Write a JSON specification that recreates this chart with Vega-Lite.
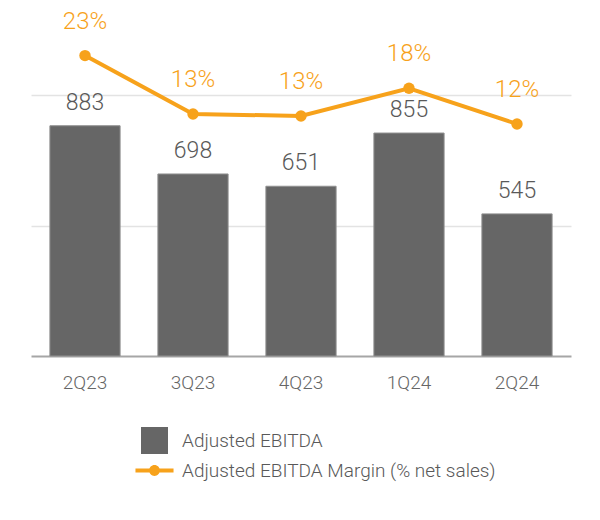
{
 "$schema": "https://vega.github.io/schema/vega-lite/v6.json",
 "width": 540, "height": 339,
 "autosize": {"type": "none"},
 "padding": {"left": 31, "top": 17, "right": 29, "bottom": 164},
 "background": "white",
 "config": {"view": {"stroke": null}, "font": "Roboto"},
 "data": {"values": [
   {"quarter": "2Q23", "ebitda": 883, "margin": 0.232},
   {"quarter": "3Q23", "ebitda": 698, "margin": 0.1347},
   {"quarter": "4Q23", "ebitda": 651, "margin": 0.1313},
   {"quarter": "1Q24", "ebitda": 855, "margin": 0.1775},
   {"quarter": "2Q24", "ebitda": 545, "margin": 0.118}
 ]},
 "encoding": {
   "x": {"field": "quarter", "type": "nominal", "sort": null,
     "scale": {"paddingInner": 0.35, "paddingOuter": 0.175},
     "axis": {"title": null, "labelAngle": 0, "ticks": false, "domainColor": "#A6A6A6", "domainWidth": 2,
       "labelFontSize": 19, "labelFontWeight": 300, "labelColor": "#666666", "labelPadding": 17, "labelFont": "Roboto"}}
 },
 "layer": [
  {"layer": [
    {"mark": {"type": "bar", "stroke": "#909090", "strokeWidth": 1},
     "encoding": {
       "y": {"field": "ebitda", "type": "quantitative", "scale": {"domain": [0, 1300], "nice": false},
         "axis": {"title": null, "values": [500, 1000], "labels": false, "ticks": false, "domain": false,
           "grid": true, "gridColor": "#E3E3E3", "gridWidth": 1.5}},
       "color": {"datum": "Adjusted EBITDA", "type": "nominal",
         "scale": {"domain": ["Adjusted EBITDA", "Adjusted EBITDA Margin (% net sales)"], "range": ["#666666", "#F7A21B"]},
         "legend": {"title": null, "orient": "none", "legendX": 110, "legendY": 410, "direction": "vertical",
           "padding": 0, "symbolSize": 729, "labelFontSize": 19, "labelFontWeight": 300, "labelColor": "#595959",
           "labelFont": "Roboto", "labelOffset": 14, "rowPadding": 3, "labelLimit": 400,
           "encode": {"symbols": {"update": {
             "shape": {"signal": "datum.value === 'Adjusted EBITDA' ? 'square' : 'M-1.41,-0.15H1.41V0.15H-1.41Z M0.4,0A0.4,0.4,0,1,1,-0.4,0A0.4,0.4,0,1,1,0.4,0Z'"},
             "fill": {"signal": "datum.value === 'Adjusted EBITDA' ? '#666666' : '#F7A21B'"},
             "strokeWidth": {"value": 0},
             "opacity": {"value": 1}}}}}}
     }},
    {"mark": {"type": "text", "dy": -16, "baseline": "alphabetic", "fontSize": 23, "fontWeight": 300, "color": "#595959"},
     "encoding": {
       "y": {"field": "ebitda", "type": "quantitative"},
       "text": {"field": "ebitda", "type": "quantitative"}}}
  ]},
  {"layer": [
    {"mark": {"type": "line", "strokeWidth": 4},
     "encoding": {
       "y": {"field": "margin", "type": "quantitative", "scale": {"domain": [-0.2687, 0.2963], "nice": false, "zero": false}, "axis": null},
       "color": {"datum": "Adjusted EBITDA Margin (% net sales)", "type": "nominal",
         "legend": {"title": null, "orient": "none", "legendX": 110, "legendY": 410, "direction": "vertical",
           "padding": 0, "symbolSize": 729, "labelFontSize": 19, "labelFontWeight": 300, "labelColor": "#595959",
           "labelFont": "Roboto", "labelOffset": 14, "rowPadding": 3, "labelLimit": 400,
           "encode": {"symbols": {"update": {
             "shape": {"signal": "datum.value === 'Adjusted EBITDA' ? 'square' : 'M-1.41,-0.15H1.41V0.15H-1.41Z M0.4,0A0.4,0.4,0,1,1,-0.4,0A0.4,0.4,0,1,1,0.4,0Z'"},
             "fill": {"signal": "datum.value === 'Adjusted EBITDA' ? '#666666' : '#F7A21B'"},
             "strokeWidth": {"value": 0},
             "opacity": {"value": 1}}}}}}}},
    {"mark": {"type": "point", "filled": true, "size": 130, "opacity": 1, "color": "#F7A21B"},
     "encoding": {"y": {"field": "margin", "type": "quantitative"}}},
    {"mark": {"type": "text", "dy": -27, "baseline": "alphabetic", "fontSize": 24, "fontWeight": 300, "color": "#F7A21B"},
     "encoding": {
       "y": {"field": "margin", "type": "quantitative"},
       "text": {"field": "margin", "type": "quantitative", "format": ".0%"}}}
  ]}
 ],
 "resolve": {"scale": {"y": "independent"}}
}
